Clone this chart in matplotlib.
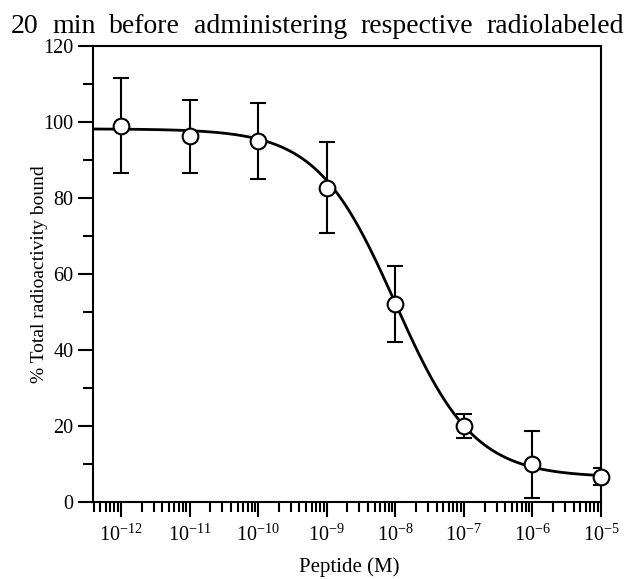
import numpy as np
import matplotlib
matplotlib.use("Agg")
import matplotlib.pyplot as plt
from matplotlib.ticker import LogLocator, MultipleLocator, FixedLocator, NullFormatter

plt.rcParams['font.family'] = ['Liberation Serif', 'DejaVu Serif']
plt.rcParams['mathtext.fontset'] = 'custom'
plt.rcParams['mathtext.rm'] = 'Liberation Serif'
plt.rcParams['mathtext.it'] = 'Liberation Serif:italic'

# ---- data ----
title_words = ["20", "min", "before", "administering", "respective", "radiolabeled"]
conc = [1e-12, 1e-11, 1e-10, 1e-9, 1e-8, 1e-7, 1e-6, 1e-5]
bound_mean = [99.0, 96.3, 95.1, 82.7, 52.2, 20.0, 9.9, 6.7]
bound_err = [12.5, 9.6, 10.0, 12.0, 10.0, 3.1, 8.8, 2.2]
# fitted sigmoidal dose-response curve parameters
fit_top = 98.2
fit_bottom = 6.5
fit_log_ic50 = -8.0
fit_hill = 0.76
x_tick_exps = [-12, -11, -10, -9, -8, -7, -6, -5]
y_ticks = [0, 20, 40, 60, 80, 100, 120]
xlabel = "Peptide (M)"
ylabel = "% Total radioactivity bound"

W, H = 626, 579
fig = plt.figure(figsize=(W / 100, H / 100), dpi=100)
ax = fig.add_axes([93 / W, 1 - 502 / H, (601 - 93) / W, (502 - 46) / H])

xmin, xmax = 3.9e-13, 1e-5
lx = np.linspace(np.log10(xmin), np.log10(xmax), 400)
curve = fit_bottom + (fit_top - fit_bottom) / (1 + 10 ** ((lx - fit_log_ic50) * fit_hill))
ax.plot(10 ** lx, curve, color='black', lw=2.0, zorder=2, solid_capstyle='butt')

ax.errorbar(conc, bound_mean, yerr=bound_err, fmt='none', ecolor='black',
            elinewidth=1.5, capsize=5.8, capthick=1.5, zorder=3)
ax.plot(conc, bound_mean, 'o', ms=11.3, mfc='white', mec='black', mew=1.5,
        zorder=4, clip_on=False)

ax.set_xscale('log')
ax.set_xlim(xmin, xmax)
ax.set_ylim(0, 120)

ax.xaxis.set_major_locator(FixedLocator([10.0 ** e for e in x_tick_exps]))
ax.set_xticklabels([r'$\mathregular{10^{%d}}$' % e for e in x_tick_exps])
ax.xaxis.set_minor_locator(LogLocator(base=10, subs=np.arange(2, 10), numticks=50))
ax.xaxis.set_minor_formatter(NullFormatter())

ax.set_yticks(y_ticks)
ax.yaxis.set_minor_locator(MultipleLocator(10))

for s in ax.spines.values():
    s.set_linewidth(1.5)
ax.tick_params(which='both', direction='out', width=1.5, top=False, right=False,
               labelsize=14.5)
ax.tick_params(which='major', length=11)
ax.tick_params(which='minor', length=7)
ax.tick_params(axis='x', which='major', pad=5)
ax.tick_params(axis='y', which='major', pad=3)

ax.set_xlabel(xlabel, fontsize=15, va='center')
ax.xaxis.set_label_coords((349 - 93) / 508, (502 - 567) / 456)
ax.set_ylabel(ylabel, fontsize=14, va='center')
ax.yaxis.set_label_coords((40 - 93) / 508, 0.5)

# justified title line (fragment of a running text line)
fig.canvas.draw()
renderer = fig.canvas.get_renderer()
texts = [fig.text(0, 1 - 33 / H, w, fontsize=20, va='baseline', ha='left') for w in title_words]
widths = [t.get_window_extent(renderer).width for t in texts]
x0, x1 = 11, 624
gap = (x1 - x0 - sum(widths)) / (len(texts) - 1)
x = x0
for t, w in zip(texts, widths):
    t.set_x(x / W)
    x += w + gap

fig.savefig('out.png', dpi=100)
